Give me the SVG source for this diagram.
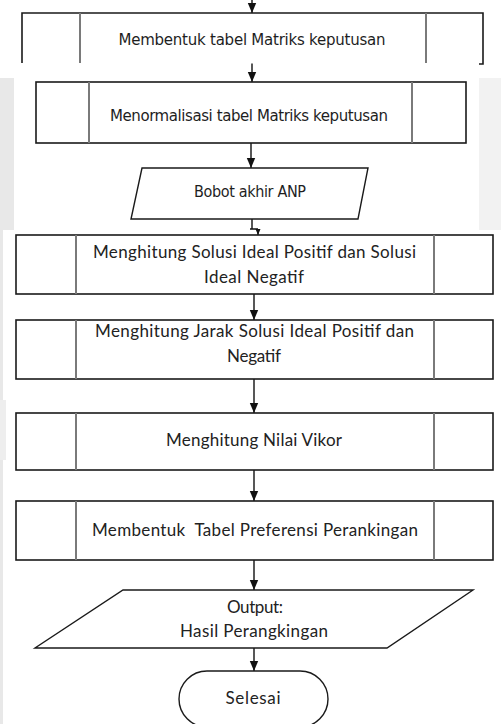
<svg xmlns="http://www.w3.org/2000/svg" width="501" height="724" viewBox="0 0 501 724">
  <style>
    .box { fill: #ffffff; stroke: #1a1a1a; stroke-width: 1.6; }
    .div { stroke: #7a7a7a; stroke-width: 2; }
    .io { fill: #ffffff; stroke: #1a1a1a; stroke-width: 1.4; }
    .link { fill: none; stroke: #111111; stroke-width: 1.4; }
    .vt { font-family: "DejaVu Sans", Verdana, sans-serif; font-size: 15px; fill: #1e1e1e; text-anchor: middle; }
    .vc { font-family: "DejaVu Sans Condensed", "DejaVu Sans", sans-serif; font-size: 16px; fill: #1e1e1e; text-anchor: middle; }
    .ct { font-family: Lato, "Open Sans", sans-serif; font-size: 17px; fill: #222222; text-anchor: middle; }
  </style>
  <defs>
    <marker id="head" markerUnits="userSpaceOnUse" markerWidth="10" markerHeight="10" viewBox="0 0 10 10" refX="10" refY="5" orient="auto">
      <path d="M0,0.8 L10,5 L0,9.2 z" fill="#111111"/>
    </marker>
    <marker id="headSmall" markerUnits="userSpaceOnUse" markerWidth="6" markerHeight="6" viewBox="0 0 6 6" refX="6" refY="3" orient="auto">
      <path d="M0,0.5 L6,3 L0,5.5 z" fill="#111111"/>
    </marker>
  </defs>

  <rect width="501" height="724" fill="#ffffff"/>

  <!-- faint background marks along the page edges -->
  <g id="background-marks" fill="#e8e8e8">
    <rect x="0" y="78" width="14" height="152"/>
    <rect x="0" y="230" width="3" height="494"/>
    <rect x="0" y="400" width="6" height="60" fill="#eeeeee"/>
    <rect x="479" y="78" width="22" height="152" fill="#f2f2f2"/>
  </g>

  <!-- connectors -->
  <g id="connectors">
    <line class="link" x1="252" y1="0" x2="252" y2="13" marker-end="url(#head)"/>
    <line class="link" x1="252" y1="63" x2="252" y2="82" marker-end="url(#head)"/>
    <line class="link" x1="251" y1="143" x2="251" y2="168" marker-end="url(#head)"/>
    <path class="link" d="M252,219 V229 M250,229 H258"/>
    <line class="link" x1="258" y1="229" x2="258" y2="235" marker-end="url(#headSmall)"/>
    <line class="link" x1="254" y1="294" x2="254" y2="320" marker-end="url(#head)"/>
    <line class="link" x1="254" y1="379" x2="254" y2="413" marker-end="url(#head)"/>
    <line class="link" x1="254" y1="470" x2="254" y2="501" marker-end="url(#head)"/>
    <line class="link" x1="254" y1="560" x2="254" y2="590" marker-end="url(#head)"/>
    <line class="link" x1="254" y1="648" x2="254" y2="671" marker-end="url(#head)"/>
  </g>

  <!-- predefined process: build decision matrix (cut at the page break) -->
  <g id="build-matrix">
    <path class="box" fill="none" d="M22,63 V13 H483 V64 H479"/>
    <line class="div" x1="80" y1="13" x2="80" y2="63"/>
    <line class="div" x1="426" y1="13" x2="426" y2="63"/>
    <text class="vt" x="252" y="45" textLength="267">Membentuk tabel Matriks keputusan</text>
  </g>

  <g id="normalize-matrix">
    <rect class="box" x="36" y="82" width="430" height="61"/>
    <line class="div" x1="89" y1="82" x2="89" y2="143"/>
    <line class="div" x1="412" y1="82" x2="412" y2="143"/>
    <text class="vt" x="249" y="121" textLength="278">Menormalisasi tabel Matriks keputusan</text>
  </g>

  <g id="anp-weights">
    <polygon class="io" points="142,168 368,168 358,219 131,219"/>
    <text class="vc" x="250" y="197" textLength="112">Bobot akhir ANP</text>
  </g>

  <g id="ideal-solutions">
    <rect class="box" x="16" y="235" width="477" height="59"/>
    <line class="div" x1="76" y1="235" x2="76" y2="294"/>
    <line class="div" x1="434" y1="235" x2="434" y2="294"/>
    <text class="ct" x="254.5" y="258" textLength="323">Menghitung Solusi Ideal Positif dan Solusi</text>
    <text class="ct" x="254" y="283" textLength="100">Ideal Negatif</text>
  </g>

  <g id="ideal-distance">
    <rect class="box" x="16" y="320" width="477" height="59"/>
    <line class="div" x1="76" y1="320" x2="76" y2="379"/>
    <line class="div" x1="434" y1="320" x2="434" y2="379"/>
    <text class="ct" x="254.5" y="337" textLength="319">Menghitung Jarak Solusi Ideal Positif dan</text>
    <text class="ct" x="254" y="362" textLength="54">Negatif</text>
  </g>

  <g id="vikor-value">
    <rect class="box" x="16" y="413" width="477" height="57"/>
    <line class="div" x1="76" y1="413" x2="76" y2="470"/>
    <line class="div" x1="434" y1="413" x2="434" y2="470"/>
    <text class="ct" x="254" y="446" textLength="176">Menghitung Nilai Vikor</text>
  </g>

  <g id="preference-table">
    <rect class="box" x="16" y="501" width="477" height="59"/>
    <line class="div" x1="76" y1="501" x2="76" y2="560"/>
    <line class="div" x1="434" y1="501" x2="434" y2="560"/>
    <text class="ct" x="255" y="536" textLength="326" xml:space="preserve">Membentuk  Tabel Preferensi Perankingan</text>
  </g>

  <g id="ranking-output">
    <polygon class="io" points="123,590 473,590 387,648 35,648"/>
    <text class="ct" x="255" y="613" textLength="56">Output:</text>
    <text class="ct" x="254" y="637" textLength="148">Hasil Perangkingan</text>
  </g>

  <g id="end">
    <rect class="io" x="179" y="671" width="149" height="56" rx="28" ry="28"/>
    <text class="ct" x="253" y="704" textLength="55">Selesai</text>
  </g>
</svg>
